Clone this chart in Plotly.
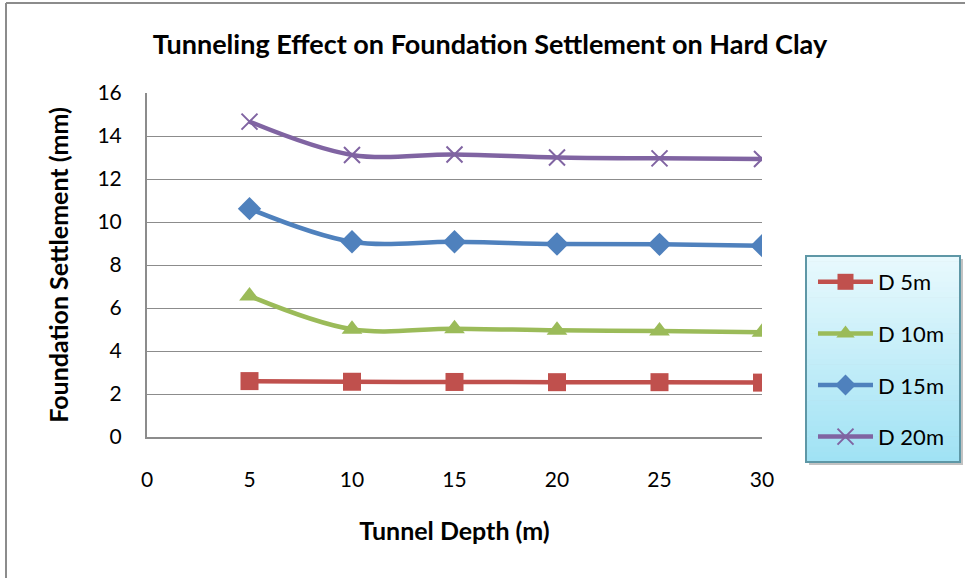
import plotly.graph_objects as go

# Tunnel depth (m) and foundation settlement (mm) for each tunnel diameter
depth = [5, 10, 15, 20, 25, 30]
d5 = [2.60, 2.57, 2.56, 2.55, 2.55, 2.53]
d10 = [6.56, 5.01, 5.04, 4.96, 4.93, 4.87]
d15 = [10.62, 9.08, 9.08, 8.98, 8.96, 8.90]
d20 = [14.67, 13.12, 13.14, 13.00, 12.96, 12.93]

series_names = ["D 5m", "D 10m", "D 15m", "D 20m"]
series_values = [d5, d10, d15, d20]
colors = ["#C0504D", "#9BBB59", "#4F81BD", "#8064A2"]
symbols = ["square", "triangle-up", "diamond", "x-thin"]
sizes = [18, 18, 18, 16]

x_ticks = [0, 5, 10, 15, 20, 25, 30]
y_ticks = [0, 2, 4, 6, 8, 10, 12, 14, 16]

W, H = 965, 578
L, R, T, B = 147, 203, 93, 141
PW, PH = W - L - R, H - T - B

def px_x(p):
    return (p - L) / PW

def px_y(p):
    return (H - B - p) / PH

FONT = "Lato"

fig = go.Figure()
for name, vals, c, s, sz in zip(series_names, series_values, colors, symbols, sizes):
    marker = dict(symbol=s, size=sz, color=c)
    if s == "x-thin":
        marker["line"] = dict(color=c, width=2)
    fig.add_trace(go.Scatter(
        x=depth, y=vals, name=name, legendgroup=name,
        mode="lines+markers",
        line=dict(color=c, width=4.5, shape="spline", smoothing=1),
        marker=marker,
    ))

shapes = []
# legend box: shadow, vertical cyan gradient, border
bx0, bx1, by0, by1 = 806, 960, 256, 462
shapes.append(dict(type="rect", xref="paper", yref="paper",
                   x0=px_x(bx0 + 3), x1=px_x(bx1 + 3), y0=px_y(by1 + 3), y1=px_y(by0 + 3),
                   line=dict(width=0), fillcolor="rgba(120,120,120,0.45)", layer="above"))
n = 40
top = (232, 249, 253)
bot = (160, 226, 244)
for i in range(n):
    t = i / (n - 1)
    col = tuple(int(round(top[k] + (bot[k] - top[k]) * t)) for k in range(3))
    ya = by0 + (by1 - by0) * i / n
    yb = by0 + (by1 - by0) * (i + 1) / n
    shapes.append(dict(type="rect", xref="paper", yref="paper",
                       x0=px_x(bx0), x1=px_x(bx1), y0=px_y(yb + 0.6), y1=px_y(ya),
                       line=dict(width=0), fillcolor="rgb(%d,%d,%d)" % col, layer="above"))
shapes.append(dict(type="rect", xref="paper", yref="paper",
                   x0=px_x(bx0), x1=px_x(bx1), y0=px_y(by1), y1=px_y(by0),
                   line=dict(color="#5E97A6", width=2), fillcolor="rgba(0,0,0,0)", layer="above"))
# outer chart border (left and top edges)
shapes.append(dict(type="line", xref="paper", yref="paper",
                   x0=px_x(6), x1=px_x(6), y0=px_y(3), y1=px_y(H + 5),
                   line=dict(color="#8c8c8c", width=2)))
shapes.append(dict(type="line", xref="paper", yref="paper",
                   x0=px_x(6), x1=px_x(W + 5), y0=px_y(3), y1=px_y(3),
                   line=dict(color="#8c8c8c", width=2)))

fig.update_layout(
    width=W, height=H,
    margin=dict(l=L, r=R, t=T, b=B),
    paper_bgcolor="white", plot_bgcolor="white",
    font=dict(family=FONT, color="black", size=21),
    title=dict(text="<b>Tunneling Effect on Foundation Settlement on Hard Clay</b>",
               x=490 / W, xanchor="center", y=1 - 45 / H, yanchor="middle",
               font=dict(size=27, family=FONT)),
    showlegend=True,
    legend=dict(x=px_x(813), y=px_y(261), xanchor="left", yanchor="top",
                bgcolor="rgba(0,0,0,0)", borderwidth=0,
                font=dict(size=22, family=FONT),
                traceorder="grouped", tracegroupgap=20,
                itemwidth=55),
    shapes=shapes,
)
fig.update_xaxes(
    range=[0, 30], tickvals=x_ticks, ticktext=[str(v) for v in x_ticks],
    showgrid=False, zeroline=False, showline=True, linecolor="#8c8c8c", linewidth=2,
    ticks="", ticklabelstandoff=23, tickfont=dict(size=21),
    title=dict(text="<b>Tunnel Depth (m)</b>", font=dict(size=25), standoff=32),
)
fig.update_yaxes(
    range=[0, 16], tickvals=y_ticks, ticktext=[str(v) for v in y_ticks],
    showgrid=True, gridcolor="#8c8c8c", gridwidth=1.3, zeroline=False,
    showline=True, linecolor="#8c8c8c", linewidth=2,
    ticks="", ticklabelstandoff=19, tickfont=dict(size=21),
    title=dict(text="<b>Foundation Settlement (mm)</b>", font=dict(size=25), standoff=22),
)

fig.write_html("out.html")
